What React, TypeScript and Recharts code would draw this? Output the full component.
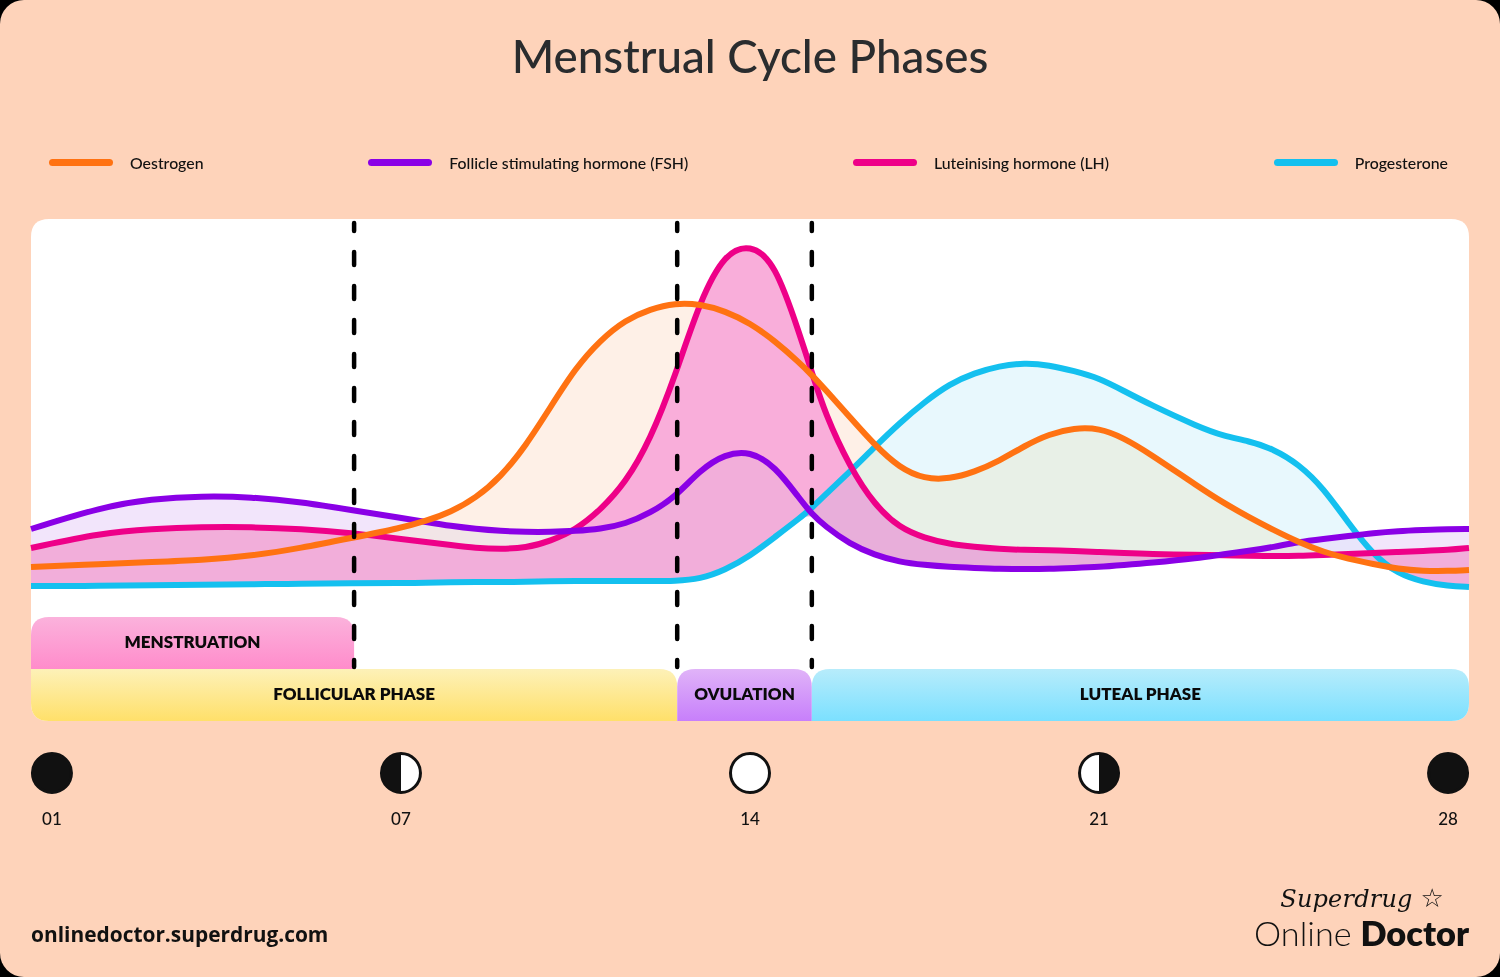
import React from 'react';
import { ComposedChart, Area, Line, XAxis, YAxis, ReferenceArea, ReferenceLine, Legend } from 'recharts';

// cycle day, the 01 marker sits at 0 so the ticks stay evenly spaced as in the original
const days = [-0.42, 1, 2, 3, 4, 5, 6, 7, 7.5, 8, 8.5, 9, 9.5, 10, 10.5, 11, 11.5, 12, 12.5, 13, 13.5, 14, 14.5, 15, 15.24, 15.5, 16, 16.5, 17, 17.5, 18, 18.5, 19, 19.5, 20, 20.5, 21, 21.5, 22, 23, 23.5, 24, 24.5, 25, 25.5, 26, 26.5, 27, 27.5, 28, 28.42];

const oestrogen = [154, 157, 159, 161, 165, 173, 183, 193, 200, 209, 223, 244, 275, 314, 353, 381, 401, 412, 418, 417, 410, 398, 380, 358, 346, 332, 304, 276, 253, 242, 242, 249, 260, 275, 287, 293, 293, 283, 268, 234, 218, 204, 191, 179, 169, 162, 157, 152, 150, 150, 151];
const fsh = [192, 214, 222, 225, 224, 219, 211, 203, 199, 195, 192, 190, 189, 189, 190, 192, 197, 208, 224, 251, 267, 270, 255, 222, 207, 195, 177, 166, 159, 156, 154, 153, 152, 152, 152, 153, 154, 156, 158, 163, 167, 170, 174, 179, 182, 185, 188, 190, 191, 192, 192];
const lh = [173, 188, 192, 194, 194, 192, 188, 182, 179, 176, 173, 172, 173, 180, 191, 211, 238, 281, 345, 421, 468, 477, 459, 386, 349, 308, 254, 216, 193, 183, 177, 174, 172, 171, 171, 170, 169, 168, 167, 166, 166, 165, 165, 165, 166, 167, 168, 169, 170, 171, 173];
const progesterone = [135, 135, 136, 136, 137, 137, 138, 138, 138, 139, 139, 139, 139, 140, 140, 140, 140, 140, 140, 142, 151, 165, 184, 203, 213, 226, 249, 274, 298, 319, 337, 348, 355, 358, 356, 350, 343, 330, 317, 294, 285, 280, 272, 257, 233, 198, 166, 147, 139, 135, 134];

const seriesNames = ['Oestrogen', 'Follicle stimulating hormone (FSH)', 'Luteinising hormone (LH)', 'Progesterone'];
const seriesColors = ['#ff7212', '#8a00e6', '#ee0088', '#14c0ef'];
const seriesTints = ['#fef0e7', '#f2e5fb', '#f9aeda', '#e8f8fd'];

const tickDays = [0, 7, 14, 21, 28];
const tickLabels = ['01', '07', '14', '21', '28'];
const tickMoons = ['new', 'half', 'full', 'half', 'new'];

const xMin = -0.42;
const xMax = 28.42;
const yMax = 502;
const menstruationEnd = 6.06;
const follicularEnd = 12.54;
const ovulationEnd = 15.24;

const phases = [
  { name: 'MENSTRUATION', x1: xMin, x2: menstruationEnd, y1: 52, y2: 104, grad: 'gMen', r: [18, 18, 0, 0] },
  { name: 'FOLLICULAR PHASE', x1: xMin, x2: follicularEnd, y1: 0, y2: 52, grad: 'gFol', r: [0, 18, 0, 18] },
  { name: 'OVULATION', x1: follicularEnd, x2: ovulationEnd, y1: 0, y2: 52, grad: 'gOvu', r: [18, 18, 0, 0] },
  { name: 'LUTEAL PHASE', x1: ovulationEnd, x2: xMax, y1: 0, y2: 52, grad: 'gLut', r: [18, 18, 18, 0] },
];

const data = days.map((day, i) => {
  const floor = Math.min(oestrogen[i], fsh[i], lh[i], progesterone[i]);
  return {
    day,
    oestrogen: oestrogen[i],
    fsh: fsh[i],
    lh: lh[i],
    progesterone: progesterone[i],
    oestrogenBand: [floor, oestrogen[i]],
    fshBand: [floor, fsh[i]],
    lhBand: [floor, lh[i]],
    progesteroneBand: [floor, progesterone[i]],
  };
});

const uiFont = 'Lato, "Open Sans", sans-serif';

// rect with its own radius per corner: tl, tr, br, bl
const RoundedBox = ({ x, y, width, height, fill, r }: any) => {
  const [tl, tr, br, bl] = r;
  const d = `M${x + tl},${y} H${x + width - tr} Q${x + width},${y} ${x + width},${y + tr} V${y + height - br} Q${x + width},${y + height} ${x + width - br},${y + height} H${x + bl} Q${x},${y + height} ${x},${y + height - bl} V${y + tl} Q${x},${y} ${x + tl},${y} Z`;
  return <path d={d} fill={fill} />;
};

const MoonTick = ({ x, y, index }: any) => {
  const kind = tickMoons[index];
  const cy = y + 44;
  return (
    <g>
      <circle cx={x} cy={cy} r={19.5} fill={kind === 'new' ? '#111' : '#fff'} stroke="#111" strokeWidth={3} />
      {kind === 'half' && (
        <path d={index === 1 ? `M${x},${cy - 19.5} A19.5,19.5 0 0 0 ${x},${cy + 19.5} Z` : `M${x},${cy - 19.5} A19.5,19.5 0 0 1 ${x},${cy + 19.5} Z`} fill="#111" />
      )}
      <text x={x} y={cy + 52} textAnchor="middle" fontFamily={uiFont} fontSize={17} fontWeight={500} fill="#111">
        {tickLabels[index]}
      </text>
    </g>
  );
};

const LegendRow = () => (
  <div style={{ display: 'flex', justifyContent: 'space-between', height: 26, alignItems: 'center', fontFamily: uiFont, fontSize: 15.85, fontWeight: 500, color: '#111' }}>
    {seriesNames.map((name, i) => (
      <div key={name} style={{ display: 'flex', alignItems: 'center' }}>
        <span style={{ width: 64, height: 7, borderRadius: 4, background: seriesColors[i], marginRight: 17, marginTop: 1 }} />
        <span>{name}</span>
      </div>
    ))}
  </div>
);

const App = () => (
  <div style={{ position: 'absolute', left: 0, top: 0, width: 1500, height: 977, background: '#000', overflow: 'hidden' }}>
    <style>{'.recharts-area-area { mix-blend-mode: darken; }'}</style>
    <div style={{ position: 'absolute', inset: 0, background: '#fed3ba', borderRadius: 24 }} />
    <div style={{ position: 'absolute', left: 0, right: 0, top: 28, textAlign: 'center', fontFamily: uiFont, fontSize: 45.7, fontWeight: 500, color: '#2a2c2e' }}>
      Menstrual Cycle Phases
    </div>
    <div style={{ position: 'absolute', left: 0, top: 0 }}>
      <ComposedChart width={1500} height={977} data={data} margin={{ top: 193, right: 31, bottom: 0, left: 31 }}>
        <defs>
          <linearGradient id="gMen" x1="0" y1="0" x2="0" y2="1"><stop offset="0" stopColor="#fbb2dc" /><stop offset="1" stopColor="#ff8ccb" /></linearGradient>
          <linearGradient id="gFol" x1="0" y1="0" x2="0" y2="1"><stop offset="0" stopColor="#fdf1b8" /><stop offset="1" stopColor="#ffe06a" /></linearGradient>
          <linearGradient id="gOvu" x1="0" y1="0" x2="0" y2="1"><stop offset="0" stopColor="#e0b3f8" /><stop offset="1" stopColor="#c77ffb" /></linearGradient>
          <linearGradient id="gLut" x1="0" y1="0" x2="0" y2="1"><stop offset="0" stopColor="#b7ecfb" /><stop offset="1" stopColor="#7be0ff" /></linearGradient>
        </defs>
        <XAxis dataKey="day" type="number" domain={[xMin, xMax]} ticks={tickDays} height={256} axisLine={false} tickLine={false} tick={<MoonTick />} interval={0} />
        <YAxis hide domain={[0, yMax]} />
        <Legend verticalAlign="top" content={<LegendRow />} wrapperStyle={{ left: 49, top: 149, width: 1399 }} />
        <ReferenceArea x1={xMin} x2={xMax} y1={0} y2={yMax} shape={(p: any) => <RoundedBox {...p} fill="#fff" r={[18, 18, 18, 18]} />} />

        <Area dataKey="oestrogenBand" type="basis" stroke="none" fill={seriesTints[0]} fillOpacity={1} isAnimationActive={false} legendType="none" />
        <Area dataKey="fshBand" type="basis" stroke="none" fill={seriesTints[1]} fillOpacity={1} isAnimationActive={false} legendType="none" />
        <Area dataKey="lhBand" type="basis" stroke="none" fill={seriesTints[2]} fillOpacity={1} isAnimationActive={false} legendType="none" />
        <Area dataKey="progesteroneBand" type="basis" stroke="none" fill={seriesTints[3]} fillOpacity={1} isAnimationActive={false} legendType="none" />

        <Line dataKey="progesterone" type="basis" stroke={seriesColors[3]} strokeWidth={6} dot={false} isAnimationActive={false} />
        <Line dataKey="lh" type="basis" stroke={seriesColors[2]} strokeWidth={6} dot={false} isAnimationActive={false} />
        <Line dataKey="fsh" type="basis" stroke={seriesColors[1]} strokeWidth={6} dot={false} isAnimationActive={false} />
        <Line dataKey="oestrogen" type="basis" stroke={seriesColors[0]} strokeWidth={6} dot={false} isAnimationActive={false} />

        {phases.map((p) => (
          <ReferenceArea
            key={p.name}
            x1={p.x1}
            x2={p.x2}
            y1={p.y1}
            y2={p.y2}
            shape={(s: any) => <RoundedBox {...s} fill={`url(#${p.grad})`} r={p.r} />}
            label={{ value: p.name, position: 'center', dy: -1, fontFamily: uiFont, fontSize: 17, fontWeight: 800, fill: '#0a0a0a' }}
          />
        ))}
        {[menstruationEnd, follicularEnd, ovulationEnd].map((d) => (
          <ReferenceLine
            key={d}
            segment={[{ x: d, y: 498 }, { x: d, y: 54 }]}
            stroke="#000"
            strokeWidth={4.5}
            strokeDasharray="13 21"
            strokeLinecap="round"
            strokeDashoffset={5}
          />
        ))}
      </ComposedChart>
    </div>
    <div style={{ position: 'absolute', left: 31, top: 920, fontFamily: '"Open Sans", sans-serif', fontSize: 20.9, fontWeight: 700, color: '#111' }}>
      onlinedoctor.superdrug.com
    </div>
    <div style={{ position: 'absolute', right: 31, top: 885, textAlign: 'right', color: '#111', fontFamily: uiFont }}>
      <div style={{ fontFamily: '"DejaVu Serif", serif', fontStyle: 'italic', fontSize: 24, lineHeight: '27px', marginRight: 25, letterSpacing: 0.2 }}>
        Superdrug <span style={{ fontStyle: 'normal', fontWeight: 700, fontFamily: '"DejaVu Sans"', fontSize: 26 }}>☆</span>
      </div>
      <div style={{ fontSize: 34.3, lineHeight: '40px' }}>
        <span style={{ fontWeight: 300 }}>Online</span> <span style={{ fontWeight: 800 }}>Doctor</span>
      </div>
    </div>
  </div>
);

export default App;
